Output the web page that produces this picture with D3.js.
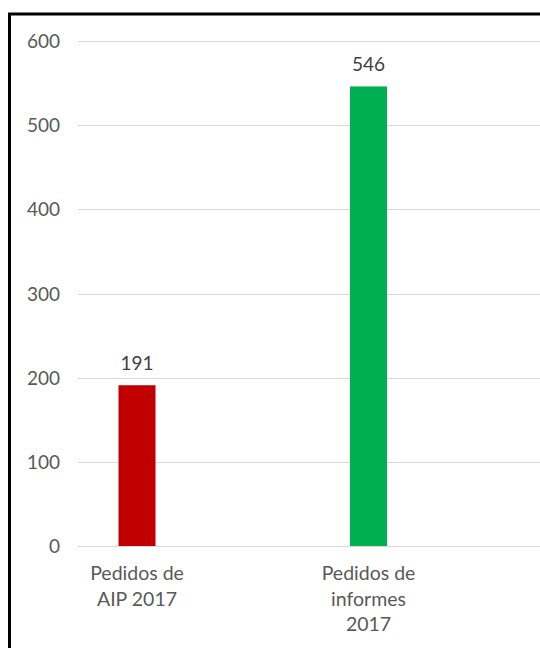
<!DOCTYPE html>
<html><head><meta charset="utf-8">
<script src="https://cdn.jsdelivr.net/npm/d3@7"></script>
<style>html,body{margin:0;padding:0;background:#fff;overflow:hidden}</style>
</head><body>
<svg id="c" width="540" height="648"></svg>
<script>
const categories = [["Pedidos de","AIP 2017"],["Pedidos de","informes","2017"]];
const values = [191, 546];
const colors = ["#C00000", "#00B050"];
const yTicks = [0,100,200,300,400,500,600];

const svg = d3.select("#c");
const font = "Lato, 'Open Sans', sans-serif";
const textColor = "#595959";

// frame
svg.append("rect").attr("x",9.5).attr("y",14).attr("width",700).attr("height",800)
  .attr("fill","#fff").attr("stroke","#000").attr("stroke-width",3);

const y = d3.scaleLinear().domain([0,600]).range([546,41]);
const x = d3.scalePoint().domain(d3.range(values.length)).range([137,368.5]);
const barW = 37;

// gridlines
svg.append("g").selectAll("line").data(yTicks).join("line")
  .attr("x1",78).attr("x2",540)
  .attr("y1",d=>Math.round(y(d))+0.5).attr("y2",d=>Math.round(y(d))+0.5)
  .attr("stroke","#d9d9d9").attr("stroke-width",1);

// y axis labels
const ya = svg.append("g").attr("transform","translate(60,0)")
  .call(d3.axisLeft(y).tickValues(yTicks).tickSize(0).tickPadding(0));
ya.select(".domain").remove();
ya.selectAll("text").attr("font-family",font).attr("font-size",19).attr("fill",textColor).attr("dy","0.35em");

// bars
svg.append("g").selectAll("rect").data(values).join("rect")
  .attr("x",(d,i)=>x(i)-barW/2).attr("width",barW)
  .attr("y",d=>y(d)).attr("height",d=>y(0)-y(d))
  .attr("fill",(d,i)=>colors[i]);

// value labels
svg.append("g").selectAll("text").data(values).join("text")
  .attr("x",(d,i)=>x(i)).attr("y",d=>y(d)-15.5)
  .attr("text-anchor","middle").attr("font-family",font).attr("font-size",19)
  .attr("fill","#404040").text(d=>d);

// category labels
const cl = svg.append("g").selectAll("text").data(categories).join("text")
  .attr("text-anchor","middle").attr("font-family",font).attr("font-size",19.5).attr("fill",textColor);
cl.each(function(lines,i){
  d3.select(this).selectAll("tspan").data(lines).join("tspan")
    .attr("x",x(i)).attr("y",(l,j)=>580+j*25.5).text(l=>l);
});
</script>
</body></html>
